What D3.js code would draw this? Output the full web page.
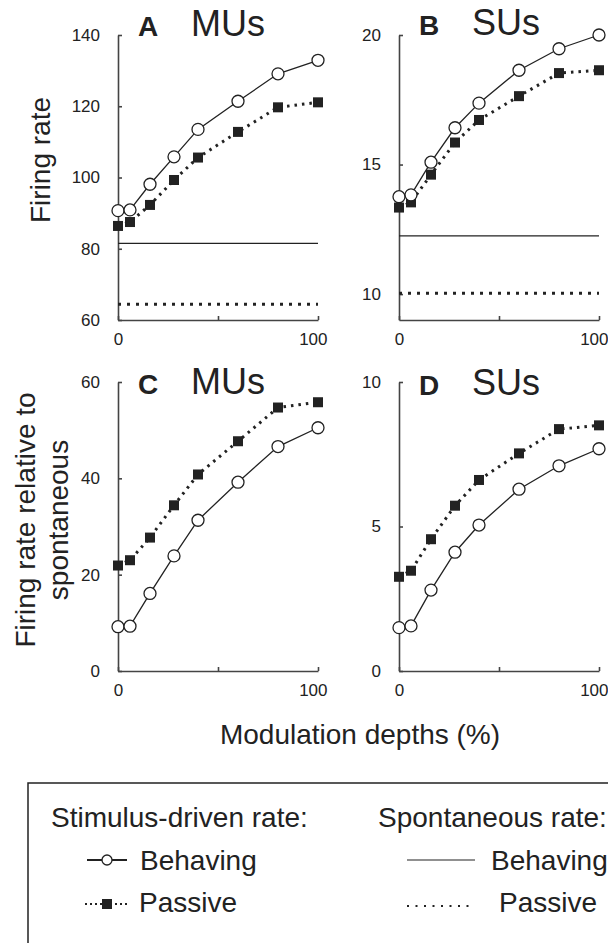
<!DOCTYPE html>
<html>
<head>
<meta charset="utf-8">
<script src="https://cdn.jsdelivr.net/npm/d3@7"></script>
<style>
  body { margin: 0; background: #fff; }
  svg text { font-family: "Liberation Sans", Arial, sans-serif; fill: #222; }
</style>
</head>
<body>
<script>
// modulation depths (%) on the x axis
var depths = [0, 6, 16, 28, 40, 60, 80, 100];

// A: MUs firing rate
var muRateBehaving = [90.7, 90.9, 98.1, 105.8, 113.5, 121.4, 129.1, 132.9];
var muRatePassive  = [86.4, 87.5, 92.3, 99.3, 105.6, 112.8, 119.7, 121.1];
var muSpontBehaving = 81.5;
var muSpontPassive = 64.4;

// B: SUs firing rate
var suRateBehaving = [13.76, 13.83, 15.09, 16.42, 17.37, 18.64, 19.47, 20.0];
var suRatePassive  = [13.34, 13.54, 14.61, 15.85, 16.72, 17.64, 18.53, 18.64];
var suSpontBehaving = 12.25;
var suSpontPassive = 10.03;

// C: MUs relative to spontaneous
var muRelBehaving = [9.2, 9.3, 16.1, 23.9, 31.3, 39.2, 46.6, 50.5];
var muRelPassive  = [21.9, 23.0, 27.7, 34.4, 40.8, 47.7, 54.7, 55.8];

// D: SUs relative to spontaneous
var suRelBehaving = [1.5, 1.56, 2.8, 4.11, 5.05, 6.29, 7.1, 7.69];
var suRelPassive  = [3.26, 3.47, 4.56, 5.72, 6.61, 7.53, 8.37, 8.5];

var xTicks = [0, 50, 100];
var muRateTicks = [60, 80, 100, 120, 140];
var suRateTicks = [10, 15, 20];
var muRelTicks = [0, 20, 40, 60];
var suRelTicks = [0, 5, 10];

var W = 608, H = 943;
var ink = "#222";

var svg = d3.select("body").append("svg")
    .attr("width", W)
    .attr("height", H);

function drawPanel(p) {
    var x = d3.scaleLinear().domain([0, 100]).range([p.left, p.left + 200]);
    var y = d3.scaleLinear().domain(p.domain).range([p.bottom, p.top]);
    var g = svg.append("g");

    // axes, ticks pointing inward
    var ya = g.append("g")
        .attr("transform", "translate(" + p.left + ",0)")
        .call(d3.axisLeft(y).tickValues(p.ticks).tickSizeInner(-4).tickSizeOuter(0).tickPadding(18));
    var xa = g.append("g")
        .attr("transform", "translate(0," + p.bottom + ")")
        .call(d3.axisBottom(x).tickValues(xTicks).tickSizeInner(-4).tickSizeOuter(0).tickPadding(13)
            .tickFormat(function(d) { return d == 50 ? "" : d; }));
    [ya, xa].forEach(function(a) {
        a.selectAll("path, line").attr("stroke", "#444").attr("stroke-width", 1.6);
        a.selectAll("text").style("font-size", "17px").attr("fill", ink);
    });
    // the "100" label sits a little left of its tick
    xa.selectAll(".tick text")
        .filter(function(d) { return d == 100; })
        .attr("text-anchor", "end").attr("x", 9);

    // spontaneous rate lines
    if (p.spont) {
        g.append("line")
            .attr("x1", x(0)).attr("x2", x(100))
            .attr("y1", y(p.spont[0])).attr("y2", y(p.spont[0]))
            .attr("stroke", ink).attr("stroke-width", 1.3);
        g.append("line")
            .attr("x1", x(0)).attr("x2", x(100))
            .attr("y1", y(p.spont[1])).attr("y2", y(p.spont[1]))
            .attr("stroke", ink).attr("stroke-width", 3)
            .attr("stroke-dasharray", "3,6");
    }

    var line = d3.line()
        .x(function(d, i) { return x(depths[i]); })
        .y(function(d) { return y(d); });

    g.append("path").datum(p.passive)
        .attr("d", line).attr("fill", "none")
        .attr("stroke", ink).attr("stroke-width", 3)
        .attr("stroke-dasharray", "2.5,5");
    g.append("path").datum(p.behaving)
        .attr("d", line).attr("fill", "none")
        .attr("stroke", ink).attr("stroke-width", 1.3);

    g.selectAll("rect.sq").data(p.passive).enter().append("rect")
        .attr("class", "sq")
        .attr("x", function(d, i) { return x(depths[i]) - 5; })
        .attr("y", function(d) { return y(d) - 5; })
        .attr("width", 10).attr("height", 10)
        .attr("fill", ink);
    g.selectAll("circle").data(p.behaving).enter().append("circle")
        .attr("cx", function(d, i) { return x(depths[i]); })
        .attr("cy", function(d) { return y(d); })
        .attr("r", 6)
        .attr("fill", "#fff").attr("stroke", ink).attr("stroke-width", 1.3);

    // titles
    g.append("text").text(p.letter)
        .attr("x", p.left + 20).attr("y", p.titleY)
        .style("font-size", "28px").style("font-weight", "bold");
    g.append("text").text(p.unit)
        .attr("x", p.left + 73).attr("y", p.titleY)
        .style("font-size", "36px");
}

drawPanel({ left: 118, top: 35, bottom: 320, domain: [60, 140], ticks: muRateTicks,
    behaving: muRateBehaving, passive: muRatePassive, spont: [muSpontBehaving, muSpontPassive],
    letter: "A", unit: "MUs", titleY: 36 });
drawPanel({ left: 399, top: 35, bottom: 320, domain: [9, 20], ticks: suRateTicks,
    behaving: suRateBehaving, passive: suRatePassive, spont: [suSpontBehaving, suSpontPassive],
    letter: "B", unit: "SUs", titleY: 35 });
drawPanel({ left: 118, top: 382, bottom: 671, domain: [0, 60], ticks: muRelTicks,
    behaving: muRelBehaving, passive: muRelPassive,
    letter: "C", unit: "MUs", titleY: 394 });
drawPanel({ left: 399, top: 382, bottom: 671, domain: [0, 10], ticks: suRelTicks,
    behaving: suRelBehaving, passive: suRelPassive,
    letter: "D", unit: "SUs", titleY: 395 });

// axis titles
svg.append("text").text("Firing rate")
    .attr("transform", "translate(50,160) rotate(-90)")
    .attr("text-anchor", "middle").style("font-size", "28px");
svg.append("text").text("Firing rate relative to")
    .attr("transform", "translate(35,520) rotate(-90)")
    .attr("text-anchor", "middle").style("font-size", "28px");
svg.append("text").text("spontaneous")
    .attr("transform", "translate(68,520) rotate(-90)")
    .attr("text-anchor", "middle").style("font-size", "28px");
svg.append("text").text("Modulation depths (%)")
    .attr("x", 360).attr("y", 744)
    .attr("text-anchor", "middle").style("font-size", "28px");

// legend
var lg = svg.append("g");
lg.append("rect").attr("x", 28).attr("y", 783).attr("width", 620).attr("height", 200)
    .attr("fill", "none").attr("stroke", ink).attr("stroke-width", 1.5);
lg.append("text").text("Stimulus-driven rate:").attr("x", 51).attr("y", 827).style("font-size", "28px");
lg.append("text").text("Spontaneous rate:").attr("x", 378).attr("y", 827).style("font-size", "28px");

lg.append("line").attr("x1", 87).attr("x2", 127).attr("y1", 860).attr("y2", 860)
    .attr("stroke", ink).attr("stroke-width", 2);
lg.append("circle").attr("cx", 107).attr("cy", 860).attr("r", 5)
    .attr("fill", "#fff").attr("stroke", ink).attr("stroke-width", 1.3);
lg.append("text").text("Behaving").attr("x", 140).attr("y", 870).style("font-size", "28px");

lg.append("line").attr("x1", 85).attr("x2", 128).attr("y1", 904).attr("y2", 904)
    .attr("stroke", ink).attr("stroke-width", 2).attr("stroke-dasharray", "2,3");
lg.append("rect").attr("x", 102).attr("y", 899).attr("width", 10).attr("height", 10).attr("fill", ink);
lg.append("text").text("Passive").attr("x", 139).attr("y", 912).style("font-size", "28px");

lg.append("line").attr("x1", 407).attr("x2", 475).attr("y1", 860).attr("y2", 860)
    .attr("stroke", ink).attr("stroke-width", 1.2);
lg.append("text").text("Behaving").attr("x", 491).attr("y", 870).style("font-size", "28px");
lg.append("line").attr("x1", 407).attr("x2", 475).attr("y1", 906).attr("y2", 906)
    .attr("stroke", ink).attr("stroke-width", 2).attr("stroke-dasharray", "2,6.5");
lg.append("text").text("Passive").attr("x", 499).attr("y", 912).style("font-size", "28px");
</script>
</body>
</html>
